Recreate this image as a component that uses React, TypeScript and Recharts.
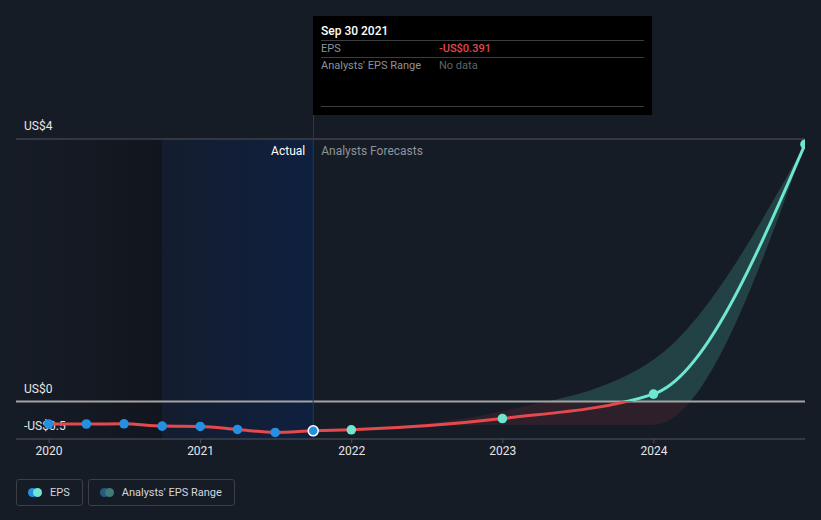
import {
  ComposedChart,
  Line,
  Area,
  XAxis,
  YAxis,
  CartesianGrid,
  ReferenceArea,
  ReferenceLine,
} from "recharts";

const dates = [
  "2019-12-31", "2020-03-31", "2020-06-30", "2020-09-30", "2020-12-31", "2021-03-31",
  "2021-06-30", "2021-09-30", "2021-12-31", "2022-12-31", "2023-12-31", "2024-12-31",
];
const epsValues = [-0.3, -0.3, -0.297, -0.328, -0.333, -0.373, -0.413, -0.391, -0.377, -0.227, 0.099, 3.43];
const isForecast = [false, false, false, false, false, false, false, false, true, true, true, true];
const rangeLow = [null, null, null, null, null, null, null, null, -0.377, -0.31, -0.31, 3.43];
const rangeHigh = [null, null, null, null, null, null, null, null, -0.377, -0.13, 0.556, 3.43];

const yearTicks = ["2020-01-01", "2021-01-01", "2022-01-01", "2023-01-01", "2024-01-01"];
const yGridValues = [-0.5, 0, 1, 2, 3, 3.5];
const yLabelValues = [-0.5, 0, 3.5];
const yLabelTexts = ["-US$0.5", "US$0", "US$4"];

const domainStart = "2019-10-13";
const domainEnd = "2024-12-31";
const pastEnd = "2020-09-30";
const actualEnd = "2021-09-30";
const tooltipIndex = 7;

const ts = (d: string) => Date.parse(d + "T00:00:00Z");

const rows = dates.map((d, i) => ({
  t: ts(d),
  eps: epsValues[i],
  forecast: isForecast[i],
  range: rangeLow[i] != null && rangeHigh[i] != null ? [rangeLow[i], rangeHigh[i]] : null,
}));

const lineMax = Math.max(...epsValues);
const lineMin = Math.min(...epsValues);
const lineZero = lineMax / (lineMax - lineMin);
const bandHighs = rangeHigh.filter((v): v is number => v != null);
const bandLows = rangeLow.filter((v): v is number => v != null);
const bandMax = Math.max(...bandHighs);
const bandMin = Math.min(...bandLows);
const bandZero = bandMax / (bandMax - bandMin);

const RED = "#e5484d";
const TEAL = "#6ee6d1";
const BLUE = "#2590e2";
const BG = "#161c26";

const fmtUsd = (v: number) => (v < 0 ? "-" : "") + "US$" + Math.abs(v).toFixed(3);
const fmtDate = (d: string) => {
  const dt = new Date(ts(d));
  const m = ["Jan", "Feb", "Mar", "Apr", "May", "Jun", "Jul", "Aug", "Sep", "Oct", "Nov", "Dec"][dt.getUTCMonth()];
  return `${m} ${dt.getUTCDate()} ${dt.getUTCFullYear()}`;
};

function renderDot(props: any) {
  const { cx, cy, index } = props;
  if (cx == null || cy == null) return <g key={`d${index}`} />;
  if (index === tooltipIndex) {
    return <circle key={`d${index}`} cx={cx} cy={cy} r={5} fill={BLUE} stroke="#ffffff" strokeWidth={1.5} />;
  }
  return <circle key={`d${index}`} cx={cx} cy={cy} r={4.8} fill={isForecast[index] ? TEAL : BLUE} />;
}

function makeYLabel(text: string) {
  return (props: any) => {
    const { viewBox } = props;
    return (
      <text x={viewBox.x + 8} y={viewBox.y - 12} fill="#e6e6e6" fontSize={12} dominantBaseline="middle">
        {text}
      </text>
    );
  };
}

function DividerLabel(props: any) {
  const { viewBox } = props;
  const x = viewBox.x;
  const y = viewBox.y + 13;
  return (
    <g>
      <text x={x - 8} y={y} textAnchor="end" fill="#ffffff" fontSize={12} dominantBaseline="middle">
        Actual
      </text>
      <text x={x + 8} y={y} fill="#8d939b" fontSize={12} dominantBaseline="middle">
        Analysts Forecasts
      </text>
    </g>
  );
}

export default function App() {
  const font = "Roboto, 'Noto Sans', sans-serif";
  const btn = {
    display: "flex",
    alignItems: "center",
    height: 27,
    boxSizing: "border-box" as const,
    padding: "0 12px 0 11px",
    border: "1px solid #3a3f48",
    borderRadius: 3,
    color: "#d4d7db",
    fontSize: 11,
  };
  return (
    <div style={{ position: "absolute", left: 0, top: 0, width: 821, height: 520, background: BG, fontFamily: font, overflow: "hidden" }}>
      <ComposedChart
        width={821}
        height={520}
        data={rows}
        margin={{ top: 139, right: 16, bottom: 51, left: 16 }}
        style={{ fontFamily: font }}
      >
        <defs>
          <linearGradient id="pastGrad" x1="0" y1="0" x2="1" y2="0">
            <stop offset="0%" stopColor="#000000" stopOpacity={0} />
            <stop offset="100%" stopColor="#000000" stopOpacity={0.22} />
          </linearGradient>
          <linearGradient id="actualGrad" x1="0" y1="0" x2="1" y2="0">
            <stop offset="0%" stopColor="#0a2250" stopOpacity={0.2} />
            <stop offset="100%" stopColor="#0a2250" stopOpacity={0.6} />
          </linearGradient>
          <linearGradient id="lineGrad" x1="0" y1="0" x2="0" y2="1">
            <stop offset={lineZero} stopColor={TEAL} />
            <stop offset={lineZero} stopColor={RED} />
          </linearGradient>
          <linearGradient id="bandGrad" x1="0" y1="0" x2="0" y2="1">
            <stop offset={bandZero} stopColor="#4fc7b4" stopOpacity={0.22} />
            <stop offset={bandZero} stopColor="#c0394a" stopOpacity={0.14} />
          </linearGradient>
        </defs>
        <ReferenceArea x1={ts(domainStart)} x2={ts(pastEnd)} fill="url(#pastGrad)" fillOpacity={1} strokeOpacity={0} />
        <ReferenceArea x1={ts(pastEnd)} x2={ts(actualEnd)} fill="url(#actualGrad)" fillOpacity={1} strokeOpacity={0} />
        <CartesianGrid horizontal vertical={false} stroke="#232a35" />
        <XAxis
          dataKey="t"
          type="number"
          scale="time"
          domain={[ts(domainStart), ts(domainEnd)]}
          ticks={yearTicks.map(ts)}
          tickFormatter={(v: number) => String(new Date(v).getUTCFullYear())}
          tick={{ fill: "#e6e6e6", fontSize: 12 }}
          tickSize={4}
          tickMargin={3}
          axisLine={{ stroke: "#4a505a" }}
          tickLine={{ stroke: "#4a505a" }}
          height={30}
          allowDataOverflow
        />
        <YAxis
          type="number"
          domain={[-0.5, 3.5]}
          ticks={yGridValues}
          tick={false}
          axisLine={false}
          tickLine={false}
          mirror
          width={0}
          allowDataOverflow
        />
        <ReferenceLine y={3.5} stroke="#4a4e57" strokeWidth={1} />
        <Area
          dataKey="range"
          type="monotone"
          fill="url(#bandGrad)"
          fillOpacity={1}
          stroke="none"
          isAnimationActive={false}
          connectNulls={false}
        />
        <ReferenceLine y={0} stroke="#a3a3a3" strokeWidth={2} />
        <ReferenceLine x={ts(actualEnd)} stroke="#1d3a62" strokeWidth={1} label={<DividerLabel />} />
        {yLabelValues.map((v, i) => (
          <ReferenceLine key={`yl${v}`} y={v} stroke="none" label={makeYLabel(yLabelTexts[i])} />
        ))}
        <Line
          dataKey="eps"
          type="monotone"
          stroke="url(#lineGrad)"
          strokeWidth={3}
          dot={renderDot}
          activeDot={false}
          isAnimationActive={false}
        />
      </ComposedChart>

      {/* tooltip box */}
      <div style={{ position: "absolute", left: 313, top: 115, width: 1, height: 24, background: "#1d3a62" }} />
      <div style={{ position: "absolute", left: 313, top: 16, width: 339, height: 99, background: "#000000", boxSizing: "border-box", padding: "0 8px" }}>
        <div style={{ color: "#ffffff", fontSize: 12, fontWeight: 500, height: 24, lineHeight: "30px", borderBottom: "1px solid #3a3d42" }}>
          {fmtDate(dates[tooltipIndex])}
        </div>
        <div style={{ display: "flex", fontSize: 11, height: 16, lineHeight: "16px", borderBottom: "1px solid #3a3d42" }}>
          <span style={{ width: 118, color: "#8d939b" }}>EPS</span>
          <span style={{ color: RED, fontWeight: 500 }}>{fmtUsd(epsValues[tooltipIndex])}</span>
        </div>
        <div style={{ display: "flex", fontSize: 11, height: 48, lineHeight: "16px", borderBottom: "1px solid #3a3d42" }}>
          <span style={{ width: 118, color: "#8d939b" }}>Analysts' EPS Range</span>
          <span style={{ color: "#5f646b" }}>No data</span>
        </div>
      </div>

      {/* legend */}
      <div style={{ position: "absolute", left: 16, top: 479, display: "flex", gap: 5 }}>
        <div style={btn}>
          <span style={{ position: "relative", width: 14, height: 9, marginRight: 8 }}>
            <span style={{ position: "absolute", left: 0, top: 0, width: 9, height: 9, borderRadius: "50%", background: BLUE }} />
            <span style={{ position: "absolute", left: 5, top: 0, width: 9, height: 9, borderRadius: "50%", background: TEAL }} />
          </span>
          EPS
        </div>
        <div style={btn}>
          <span style={{ position: "relative", width: 14, height: 9, marginRight: 8 }}>
            <span style={{ position: "absolute", left: 0, top: 0, width: 9, height: 9, borderRadius: "50%", background: "#255a80" }} />
            <span style={{ position: "absolute", left: 5, top: 0, width: 9, height: 9, borderRadius: "50%", background: "#3d7c78" }} />
          </span>
          Analysts' EPS Range
        </div>
      </div>
    </div>
  );
}
